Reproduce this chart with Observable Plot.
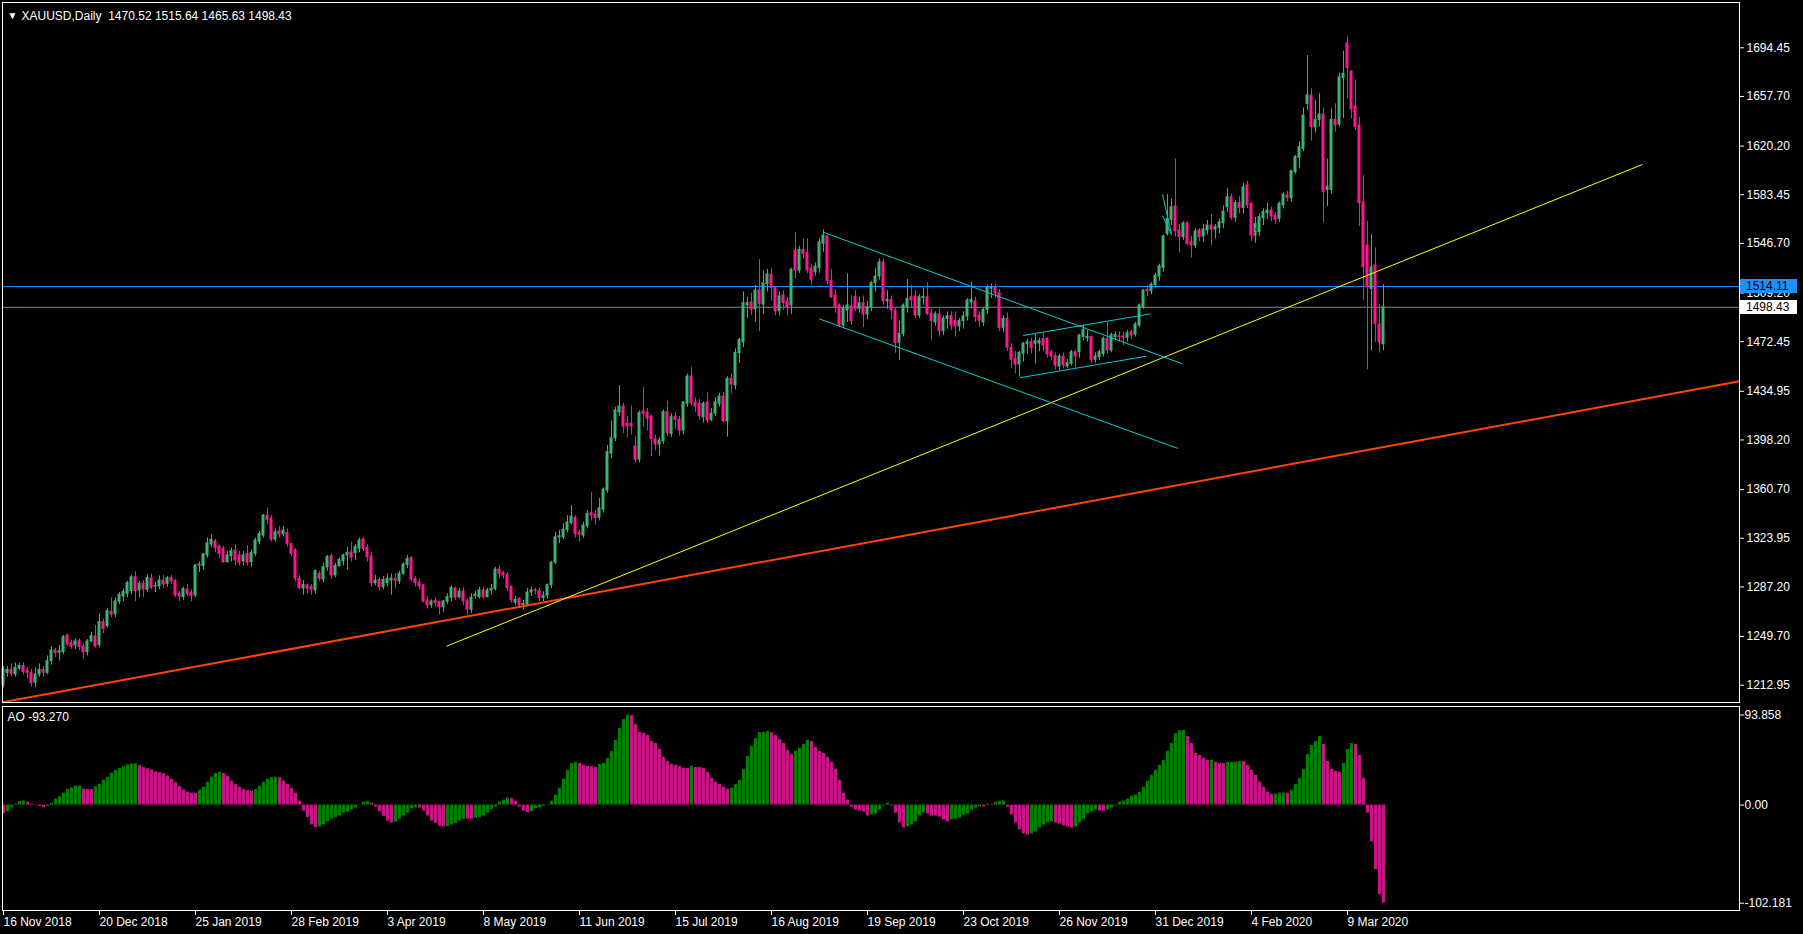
<!DOCTYPE html>
<html><head><meta charset="utf-8">
<script src="https://cdn.jsdelivr.net/npm/d3@7"></script>
<script src="https://cdn.jsdelivr.net/npm/@observablehq/plot@0.6"></script>
<style>
html,body{margin:0;padding:0;background:#000;overflow:hidden}
#chart{position:relative;width:1803px;height:934px;background:#000}
#chart svg{position:absolute;left:0;display:block}
</style></head><body><div id="chart"></div>
<script>
// ---------- DATA ----------
const symbolName = "XAUUSD,Daily";
const aoLabel = "AO -93.270";
const opens = [
1213.0,1222.3,1224.5,1221.0,1225.5,1227.5,1224.0,1222.3,1214.8,1221.0,
1224.5,1222.3,1231.0,1239.2,1237.5,1238.0,1250.5,1244.7,1243.0,1246.2,
1242.2,1238.0,1246.0,1249.7,1243.4,1260.6,1257.5,1268.3,1266.6,1276.0,
1279.9,1282.0,1284.0,1294.5,1284.5,1289.5,1285.0,1293.5,1287.5,1287.6,
1292.0,1289.5,1293.8,1291.8,1281.9,1279.5,1285.2,1283.0,1280.7,1303.5,
1302.9,1311.0,1319.2,1321.5,1317.7,1316.0,1306.0,1310.5,1314.7,1311.0,
1306.6,1312.2,1306.0,1312.2,1321.3,1326.0,1341.1,1338.6,1323.0,1329.3,
1327.0,1328.0,1319.7,1314.7,1293.3,1286.0,1288.3,1287.0,1284.5,1297.0,
1292.8,1302.0,1310.4,1296.0,1303.0,1306.6,1311.0,1313.2,1312.7,1316.0,
1323.0,1316.7,1310.2,1290.0,1292.5,1287.0,1290.0,1292.0,1293.0,1291.5,
1297.1,1303.7,1308.9,1293.0,1290.5,1288.3,1276.9,1273.4,1276.4,1275.7,
1271.9,1276.2,1279.0,1286.0,1279.4,1283.7,1276.4,1270.0,1280.2,1279.4,
1284.5,1279.4,1284.5,1285.7,1300.3,1297.6,1296.3,1287.0,1275.3,1278.0,
1273.5,1274.0,1283.0,1284.6,1284.0,1278.9,1280.5,1288.5,1305.5,1324.5,
1324.7,1330.3,1335.3,1339.3,1327.8,1326.0,1333.0,1342.9,1341.9,1339.5,
1345.6,1360.0,1387.7,1399.5,1419.0,1423.4,1410.4,1410.4,1393.2,1383.4,
1419.7,1418.7,1415.9,1398.8,1394.8,1397.3,1419.2,1402.8,1415.9,1413.4,
1405.3,1425.5,1446.1,1426.5,1425.5,1415.3,1426.5,1413.4,1418.0,1425.5,
1431.0,1412.4,1444.4,1439.5,1463.8,1472.0,1500.0,1502.0,1497.0,1511.0,
1500.5,1516.0,1523.0,1512.9,1495.5,1507.3,1502.8,1499.8,1541.3,1526.0,
1541.8,1539.3,1527.7,1524.9,1528.2,1546.4,1551.9,1518.2,1507.3,1499.8,
1484.7,1496.0,1499.0,1506.1,1497.3,1501.5,1493.0,1498.5,1516.6,1521.7,
1532.3,1503.0,1504.0,1496.0,1471.6,1478.4,1498.5,1506.0,1506.6,1492.2,
1505.5,1506.0,1493.5,1487.0,1493.0,1480.4,1489.7,1492.0,1488.0,1484.0,
1488.0,1491.5,1502.0,1502.8,1492.2,1487.0,1496.5,1512.4,1513.6,1509.0,
1482.9,1489.7,1467.8,1459.5,1455.2,1463.3,1470.8,1472.0,1470.8,1471.0,
1474.5,1474.6,1464.5,1461.5,1453.6,1461.2,1453.7,1455.7,1464.5,1464.5,
1476.0,1475.0,1475.9,1458.7,1460.7,1463.3,1474.6,1465.8,1475.9,1476.4,
1476.4,1475.5,1479.6,1477.9,1484.6,1498.5,1511.6,1510.6,1515.2,1521.7,
1528.2,1553.9,1564.5,1574.5,1556.4,1551.4,1561.9,1547.6,1545.1,1556.4,
1551.9,1556.4,1560.2,1557.2,1558.4,1562.0,1574.0,1581.6,1566.0,1577.1,
1573.5,1590.4,1576.6,1552.6,1555.2,1565.9,1569.5,1571.5,1567.7,1565.2,
1575.3,1583.0,1580.8,1600.5,1611.3,1618.1,1652.1,1658.4,1634.5,1640.0,
1644.0,1587.1,1587.1,1640.0,1636.5,1671.7,1697.9,1676.5,1650.1,1635.7,
1577.8,1545.1,1512.3,1530.0,1485.4,1470.52];
const highs = [
1227.0,1227.0,1229.0,1229.8,1229.5,1230.0,1226.0,1225.0,1226.0,1229.0,
1227.0,1235.0,1242.0,1241.0,1243.0,1250.5,1251.5,1247.0,1248.0,1248.0,
1244.0,1247.5,1253.0,1258.0,1266.9,1263.0,1271.0,1278.9,1279.0,1283.0,
1285.5,1291.5,1296.0,1298.7,1291.0,1292.0,1296.5,1297.0,1291.0,1295.5,
1296.0,1295.0,1296.0,1293.0,1284.0,1287.0,1289.0,1285.0,1304.0,1306.0,
1312.5,1324.3,1326.5,1323.0,1319.0,1318.0,1314.0,1316.5,1319.0,1314.0,
1314.0,1318.5,1315.0,1324.0,1329.0,1342.0,1347.0,1341.0,1331.0,1333.0,
1333.0,1331.0,1320.0,1316.0,1296.0,1292.0,1289.5,1289.0,1300.0,1299.0,
1305.0,1311.0,1312.0,1305.0,1309.0,1312.0,1317.0,1321.0,1319.0,1324.0,
1324.5,1319.0,1313.0,1296.0,1294.0,1295.0,1297.0,1297.0,1297.0,1299.0,
1305.5,1311.0,1310.0,1295.0,1293.0,1289.0,1280.0,1277.5,1278.8,1276.5,
1277.0,1282.0,1288.0,1287.0,1286.0,1287.0,1278.0,1282.0,1284.0,1287.0,
1287.0,1286.0,1289.0,1302.0,1303.0,1299.0,1298.0,1288.0,1280.0,1279.0,
1277.0,1286.0,1287.0,1286.0,1286.0,1283.5,1289.5,1306.5,1328.5,1330.0,
1335.0,1341.0,1348.7,1341.0,1330.0,1336.0,1345.0,1358.7,1345.0,1354.0,
1362.0,1394.0,1412.4,1423.0,1439.3,1426.0,1416.0,1424.0,1401.0,1420.0,
1438.0,1422.0,1417.0,1402.0,1400.0,1421.0,1427.5,1418.0,1419.0,1416.0,
1427.0,1448.0,1453.2,1430.0,1429.0,1427.0,1433.8,1422.0,1430.0,1433.5,
1434.0,1446.0,1448.0,1467.0,1475.0,1510.0,1506.0,1509.0,1515.0,1534.5,
1526.0,1527.0,1528.0,1514.0,1510.0,1511.0,1506.0,1528.0,1555.0,1544.5,
1550.0,1550.0,1531.0,1532.0,1550.0,1556.9,1553.0,1527.0,1512.0,1501.0,
1500.0,1523.7,1507.0,1511.0,1506.0,1507.0,1503.0,1518.0,1527.5,1535.0,
1535.0,1511.0,1507.0,1498.0,1488.0,1501.0,1519.4,1515.0,1511.0,1508.0,
1513.0,1517.0,1497.0,1495.0,1497.0,1492.0,1495.0,1495.0,1495.0,1490.0,
1495.0,1505.0,1517.4,1506.0,1495.0,1498.0,1515.0,1516.0,1516.0,1512.0,
1492.0,1494.0,1471.0,1465.0,1465.0,1472.0,1474.5,1475.0,1478.0,1475.0,
1478.9,1475.5,1466.0,1464.0,1463.0,1464.0,1459.0,1466.0,1466.0,1478.0,
1484.7,1481.0,1477.0,1464.0,1466.0,1476.0,1487.2,1479.0,1480.0,1480.0,
1479.6,1481.0,1481.0,1487.0,1501.0,1512.0,1514.9,1517.0,1524.0,1531.0,
1553.0,1583.6,1580.0,1610.5,1561.0,1563.0,1563.0,1552.0,1557.6,1558.0,
1560.9,1564.0,1568.5,1561.0,1565.0,1575.0,1588.0,1584.0,1579.0,1582.0,
1592.0,1593.7,1578.0,1566.5,1569.0,1572.8,1577.0,1574.0,1570.0,1578.0,
1585.0,1586.0,1602.0,1613.0,1623.6,1649.0,1688.6,1663.4,1654.6,1659.7,
1649.0,1610.5,1648.3,1652.1,1675.3,1691.9,1703.0,1677.0,1670.2,1642.0,
1597.9,1563.5,1553.4,1543.3,1500.5,1515.64];
const lows = [
1211.0,1219.0,1219.5,1219.0,1224.0,1220.5,1218.0,1211.5,1211.0,1219.0,
1219.0,1221.0,1228.0,1234.0,1231.0,1236.0,1242.0,1240.0,1240.0,1239.0,
1232.6,1235.0,1245.0,1241.0,1241.0,1252.0,1256.0,1264.0,1264.0,1274.0,
1276.0,1279.0,1281.0,1276.2,1279.0,1279.4,1283.0,1285.0,1283.0,1285.0,
1286.0,1287.0,1289.0,1279.0,1276.0,1277.0,1280.0,1276.0,1279.0,1298.0,
1300.0,1309.0,1317.0,1313.0,1308.4,1305.0,1305.0,1306.0,1303.4,1303.0,
1303.0,1303.0,1302.1,1310.0,1319.0,1324.0,1334.0,1321.0,1321.0,1324.0,
1325.0,1317.0,1310.0,1291.0,1285.0,1281.0,1282.0,1281.0,1282.0,1291.0,
1290.0,1299.0,1293.0,1294.0,1302.0,1303.0,1300.0,1306.0,1307.0,1313.0,
1314.0,1306.0,1287.0,1288.0,1284.0,1285.0,1287.0,1281.0,1286.0,1289.0,
1296.0,1301.0,1291.0,1287.0,1285.0,1275.0,1270.5,1271.0,1272.0,1266.0,
1268.0,1274.0,1276.0,1277.0,1278.0,1273.0,1266.0,1267.0,1278.0,1278.0,
1278.0,1279.0,1281.0,1284.0,1293.0,1293.0,1284.0,1274.8,1273.0,1271.0,
1270.0,1272.0,1280.0,1281.0,1276.0,1276.0,1278.0,1286.0,1304.0,1320.0,
1323.0,1328.0,1334.0,1324.0,1321.0,1324.0,1331.0,1337.0,1334.0,1337.0,
1343.0,1358.0,1384.0,1397.0,1416.0,1403.0,1400.0,1402.0,1381.0,1381.0,
1408.0,1405.0,1385.7,1390.0,1386.0,1395.0,1401.0,1400.0,1406.0,1401.0,
1402.0,1423.0,1424.0,1419.0,1413.0,1411.0,1411.0,1412.0,1416.0,1423.0,
1411.0,1400.3,1433.0,1436.0,1456.0,1468.0,1490.0,1492.0,1487.0,1480.0,
1493.0,1510.0,1503.0,1492.0,1492.0,1496.0,1492.0,1493.0,1520.0,1524.0,
1535.0,1524.0,1515.0,1522.0,1524.0,1540.0,1515.0,1505.0,1494.0,1483.0,
1483.0,1487.0,1485.0,1495.0,1494.0,1483.0,1489.0,1495.0,1510.0,1519.0,
1500.0,1497.0,1489.0,1463.8,1458.2,1476.0,1494.0,1498.0,1490.0,1490.0,
1500.0,1492.0,1473.3,1484.0,1476.0,1477.0,1482.0,1481.0,1476.0,1480.0,
1482.0,1488.0,1497.0,1487.0,1483.0,1484.0,1493.0,1505.0,1505.0,1480.0,
1479.0,1465.0,1452.0,1448.2,1445.6,1457.0,1463.0,1463.0,1455.7,1465.0,
1464.6,1460.0,1458.0,1451.0,1450.7,1452.0,1452.0,1454.0,1452.6,1460.0,
1473.0,1472.0,1456.0,1456.0,1458.0,1461.0,1463.0,1464.0,1473.0,1472.0,
1469.5,1472.0,1474.0,1476.0,1483.0,1497.0,1506.6,1508.0,1513.0,1518.0,
1525.0,1552.0,1560.0,1551.4,1539.3,1549.0,1545.0,1535.5,1543.0,1548.0,
1547.6,1553.0,1545.1,1550.0,1554.0,1558.0,1570.0,1564.0,1562.7,1569.0,
1569.0,1573.0,1548.4,1546.8,1552.0,1560.2,1565.0,1563.0,1560.9,1562.5,
1572.8,1578.0,1578.0,1599.0,1603.0,1616.0,1647.1,1623.9,1630.0,1634.5,
1562.0,1574.5,1584.1,1630.7,1634.5,1641.0,1655.9,1640.8,1632.0,1559.4,
1503.5,1451.2,1465.2,1472.0,1463.8,1465.63];
const closes = [
1225.0,1224.5,1221.5,1226.0,1227.5,1222.8,1222.3,1214.5,1221.0,1224.5,
1222.3,1231.1,1239.2,1237.2,1238.6,1249.2,1243.7,1241.9,1246.0,1241.7,
1237.9,1246.0,1250.0,1242.2,1260.6,1255.5,1268.9,1266.3,1276.2,1281.2,
1283.5,1290.0,1294.5,1284.0,1289.5,1285.3,1294.0,1286.5,1288.0,1292.0,
1289.0,1293.8,1291.3,1280.6,1280.2,1285.5,1282.0,1280.5,1303.4,1304.0,
1311.7,1320.2,1322.8,1316.7,1312.2,1305.9,1311.0,1314.2,1307.2,1305.4,
1311.0,1305.4,1312.7,1322.3,1327.3,1341.1,1337.9,1323.0,1328.5,1326.8,
1329.8,1319.7,1312.2,1293.3,1286.3,1288.6,1285.7,1285.2,1299.1,1293.3,
1302.1,1309.7,1295.8,1303.1,1307.6,1311.0,1313.0,1309.2,1317.3,1322.3,
1316.0,1309.7,1290.0,1292.0,1287.0,1292.5,1293.3,1293.5,1292.0,1297.1,
1304.1,1308.4,1292.8,1290.0,1287.5,1276.2,1273.1,1276.2,1275.0,1271.9,
1276.2,1279.5,1286.5,1279.0,1283.7,1276.2,1270.0,1279.0,1281.4,1284.5,
1279.4,1284.5,1285.7,1300.3,1297.0,1295.8,1286.3,1277.0,1277.5,1273.1,
1274.3,1283.0,1284.6,1284.2,1278.9,1280.5,1288.5,1305.5,1324.7,1325.5,
1330.3,1335.8,1340.3,1327.3,1326.5,1333.6,1342.4,1341.1,1339.1,1346.6,
1360.7,1388.9,1399.5,1420.4,1423.4,1408.4,1408.6,1408.4,1383.2,1418.4,
1417.9,1414.4,1398.8,1394.8,1397.8,1419.2,1403.3,1415.4,1413.4,1405.3,
1426.5,1446.1,1426.0,1423.5,1416.4,1425.5,1413.0,1418.0,1426.7,1431.0,
1412.4,1444.4,1440.0,1463.8,1473.8,1501.5,1501.5,1496.7,1511.1,1501.0,
1516.5,1523.2,1513.0,1495.5,1506.7,1501.5,1498.0,1526.9,1526.2,1541.8,
1538.8,1526.2,1519.2,1529.2,1547.6,1552.6,1518.2,1506.1,1498.5,1484.7,
1497.3,1499.8,1488.0,1497.3,1501.5,1493.0,1498.5,1516.6,1521.7,1532.3,
1503.0,1504.0,1496.0,1471.6,1478.4,1499.8,1504.8,1503.5,1492.2,1506.1,
1506.1,1493.5,1488.0,1493.0,1480.4,1489.7,1491.5,1484.6,1484.0,1488.0,
1491.5,1503.5,1504.0,1491.0,1488.4,1496.5,1513.1,1513.6,1509.0,1482.9,
1489.7,1467.8,1458.7,1455.2,1463.8,1470.8,1472.0,1467.8,1472.8,1472.8,
1469.6,1462.8,1461.2,1454.4,1461.2,1454.4,1456.2,1464.5,1461.2,1477.1,
1481.4,1476.0,1458.7,1461.2,1464.5,1474.6,1465.8,1477.1,1477.6,1475.9,
1475.5,1478.8,1477.1,1485.4,1499.8,1511.1,1510.6,1515.4,1522.4,1529.2,
1551.9,1565.2,1574.0,1555.7,1551.4,1561.9,1546.3,1545.1,1555.7,1551.4,
1557.2,1560.2,1557.2,1558.9,1562.5,1570.8,1581.6,1566.0,1577.1,1573.5,
1589.1,1575.3,1552.6,1561.4,1566.5,1570.3,1571.5,1567.0,1564.5,1576.6,
1583.6,1581.1,1601.2,1611.8,1619.4,1643.3,1658.4,1634.5,1640.0,1644.0,
1585.4,1589.6,1640.0,1635.7,1672.2,1674.8,1679.3,1647.8,1634.5,1577.1,
1528.7,1513.5,1528.7,1485.9,1472.0,1498.43];
const aoValues = [
-9,-7,-2.8,1,3.8,4.2,3,1,-0.7,-1.4,
-2.8,-1.4,1.7,6.2,8.6,12.4,16.5,17.9,19.7,19.9,
16.5,16.3,16.2,19,21.7,25.9,29,33,36,38,
40,42,42.8,43,41.4,39,37.9,36.5,34.5,33.8,
32.8,30.3,26.9,23.4,19.3,15.9,13.5,12.4,12.2,15.5,
18.6,23.8,29,33,34,33,30,24.8,21.4,18.6,
16.2,15.2,14.5,16,19.7,23.8,27.2,28.6,29,28.6,
24.8,21.4,17.2,12.4,4.1,-6.2,-13.1,-20.7,-23.4,-22.8,
-20.7,-17.2,-14.5,-13.1,-11.4,-8.3,-7.6,-4.8,-3.1,0.3,
3.1,4.1,2.1,-2.1,-6.9,-11.7,-16.6,-18.6,-17.9,-14.8,
-11.4,-8.3,-3.8,-2.8,-3,-6.2,-11.4,-16.6,-19,-22.1,
-22.8,-22.5,-20.7,-19.3,-16.6,-14.5,-14.7,-14.8,-13.8,-13.1,
-11.4,-8.3,-4.8,-2.1,3.1,5.2,7.2,7,4.1,-2.1,
-6.2,-7.9,-6.9,-3.8,-2.8,-1.4,0.3,4.1,10.3,17.6,
26.9,36.2,43.4,44.5,43.4,41.4,40.3,40.1,39.3,42.4,
43.4,48.6,55.9,67.2,79.7,89,93.858,93.2,83.8,75.5,
74.8,72.4,66.2,64.1,57.9,49.7,45.5,42.4,41.4,40.3,
38.3,38.1,40.3,39.3,39.1,38.3,34.1,27.9,23.8,21.7,
18.6,16.6,17.6,21.7,25.9,37.2,50.7,61,69.3,75.5,
75.6,76.6,75.5,72.4,68.3,64.1,56.9,52.8,55.9,59,
63.1,67.2,66.2,60,55.9,53.8,49.7,44.5,37.2,25.9,
12.4,5.2,-2.1,-5.2,-6.2,-7.2,-11.4,-10.3,-9.3,-5.2,
-1,2.1,-1,-8.3,-18.6,-23.8,-22.8,-20.7,-17.6,-11.4,
-8.3,-9.3,-11.4,-11.5,-12.4,-15.5,-17.6,-15.5,-14.5,-13.4,
-10.3,-9.3,-5.2,-3.1,-1.7,-2,1,0.7,3.1,4.1,
4.2,-2.1,-10.3,-18.6,-25.9,-30,-31,-30,-27.9,-23.8,
-20.7,-18.6,-17.6,-18.6,-19.7,-21.7,-22.8,-23.8,-22.8,-18.6,
-14.5,-9.3,-7.2,-5.2,-6.2,-6.3,-5.2,-3.1,-1,3.1,
4.1,6.2,9.3,10.3,13.4,18.6,24.8,31,36.2,41.4,
46.6,55.9,64.1,74.5,77.6,77.8,71.4,64.1,53.8,51.7,
48.6,46.6,46.8,44.5,43.4,43.3,44.5,44.6,44.7,45.5,
45.4,41.4,36.2,31,23.8,18.6,13.4,11.4,11.5,12.4,
12.5,12.3,15.5,21.7,27.9,37.2,52.8,62.1,66.2,71.4,
63.1,45.5,37.2,35.2,34.1,43.4,57.9,64.1,63.1,51.7,
27.9,-8.3,-38.3,-67.2,-93.27,-102.181];
const dateTickBars = [0,24,48,72,96,120,144,168,192,216,240,264,288,312,336];
const dateTickLabels = ["16 Nov 2018","20 Dec 2018","25 Jan 2019","28 Feb 2019","3 Apr 2019","8 May 2019","11 Jun 2019","15 Jul 2019","16 Aug 2019","19 Sep 2019","23 Oct 2019","26 Nov 2019","31 Dec 2019","4 Feb 2020","9 Mar 2020"];
const priceTicks = [1694.45,1657.70,1620.20,1583.45,1546.70,1509.20,1472.45,1434.95,1398.20,1360.70,1323.95,1287.20,1249.70,1212.95];
const aoTicks = [93.858, 0, -102.181];
const aoTickLabels = ["93.858","0.00","-102.181"];
const levelAsk = 1514.11;
const levelBid = 1498.43;
// drawn objects: anchor points in (bar index, price)
const orangeTrend = [{i1:-0.25,p1:1200.0,i2:434,p2:1442.5}];
const yellowTrend = [{i1:110.75,p1:1242.4,i2:409.75,p2:1606.3}];
const cyanLines = [
  {i1:204.9,p1:1555.2,i2:294.75,p2:1455.7},
  {i1:203.9,p1:1489.7,i2:293.6,p2:1391.8},
  {i1:254.9,p1:1477.1,i2:286.75,p2:1493.5},
  {i1:254.1,p1:1445.2,i2:285.75,p2:1461.5},
  {i1:289.75,p1:1583.6,i2:292,p2:1553.4},
  {i1:289.75,p1:1567.7,i2:292,p2:1553.4}
];
const redMark = [{i1:311.9,p1:1548.3,i2:313.25,p2:1559.4}];

// ---------- STYLE ----------
const BULL = "#3CB371", BEAR = "#FF1493";
const AO_UP = "#008000", AO_DN = "#C71585";
const FONT = "'Liberation Sans', Arial, sans-serif";

const candles = opens.map((o, i) => ({
  i, o, h: highs[i], l: lows[i], c: closes[i],
  col: closes[i] >= o ? BULL : BEAR
}));
const aoData = aoValues.map((v, i) => ({
  i, v, col: (i > 0 && v > aoValues[i - 1]) ? AO_UP : AO_DN
}));
const last = candles.length - 1;
const title = `${symbolName}  ${opens[last].toFixed(2)} ${highs[last].toFixed(2)} ${lows[last].toFixed(2)} ${closes[last].toFixed(2)}`;

const xDomain = [-0.25, 434];
const commonStyle = {background: "#000", color: "#fff", fontFamily: FONT, fontSize: "12px", overflow: "visible"};

const main = Plot.plot({
  width: 1803, height: 704,
  marginTop: 2, marginBottom: 2, marginLeft: 2, marginRight: 64,
  x: {domain: xDomain, axis: null},
  y: {domain: [1199.88, 1728.67]},
  color: {type: "identity"},
  style: commonStyle,
  marks: [
    Plot.ruleY([levelAsk], {stroke: "#1E90FF"}),
    Plot.ruleY([levelBid], {stroke: "#778899"}),
    Plot.ruleX(candles, {x: "i", y1: "l", y2: "h", stroke: "col"}),
    Plot.rect(candles, {x1: d => d.i - 0.375, x2: d => d.i + 0.375,
      y1: d => Math.min(d.o, d.c), y2: d => Math.max(d.o, d.c),
      fill: "col", insetTop: -0.5, insetBottom: -0.5}),
    Plot.link(orangeTrend, {x1: "i1", y1: "p1", x2: "i2", y2: "p2", stroke: "#FF4500", strokeWidth: 2}),
    Plot.link(yellowTrend, {x1: "i1", y1: "p1", x2: "i2", y2: "p2", stroke: "#FFFF00", strokeWidth: 1}),
    Plot.link(cyanLines, {x1: "i1", y1: "p1", x2: "i2", y2: "p2", stroke: "#00CED1", strokeWidth: 1}),
    Plot.link(redMark, {x1: "i1", y1: "p1", x2: "i2", y2: "p2", stroke: "#FF0000", strokeWidth: 1, strokeDasharray: "2,2"}),
    Plot.frame({stroke: "#fff"}),
    Plot.axisY(priceTicks, {anchor: "right", tickSize: 4, tickPadding: 3, label: null,
      tickFormat: d => d.toFixed(2), color: "#fff", fontSize: 12}),
    Plot.text(["\u25BC"], {frameAnchor: "top-left", dx: 5, dy: 9, fontSize: 10, fill: "#fff", textAnchor: "start", lineAnchor: "top"}),
    Plot.text([title], {frameAnchor: "top-left", dx: 19, dy: 9, fontSize: 12, fill: "#fff", textAnchor: "start", lineAnchor: "top"})
  ]
});
main.style.top = "0px";

// price tag boxes on the right axis (current ask / bid)
{
  const ys = main.scale("y");
  const sel = d3.select(main);
  const tags = [{v: levelAsk, bg: "#1E90FF"}, {v: levelBid, bg: "#FFFFFF"}];
  for (const t of tags) {
    const yy = Math.round(ys.apply(t.v));
    sel.append("rect").attr("x", 1740).attr("y", yy - 7).attr("width", 57).attr("height", 14).attr("fill", t.bg);
    sel.append("text").attr("x", 1746).attr("y", yy).attr("dy", "0.35em")
      .attr("text-anchor", "start")
      .attr("fill", "#000").attr("font-family", FONT).attr("font-size", 12).text(t.v.toFixed(2));
  }
}

const ao = Plot.plot({
  width: 1803, height: 230,
  marginTop: 2, marginBottom: 24, marginLeft: 2, marginRight: 64,
  x: {domain: xDomain},
  y: {domain: [-109.79, 102.71]},
  color: {type: "identity"},
  style: commonStyle,
  marks: [
    Plot.ruleX(aoData, {x: "i", y1: 0, y2: "v", stroke: "col", strokeWidth: 3}),
    Plot.frame({stroke: "#fff"}),
    Plot.axisY(aoTicks, {anchor: "right", tickSize: 4, tickPadding: 1, label: null,
      tickFormat: d => aoTickLabels[aoTicks.indexOf(d)], color: "#fff", fontSize: 12}),
    Plot.axisX(dateTickBars, {anchor: "bottom", tickSize: 5, tickPadding: 2, label: null,
      tickFormat: d => dateTickLabels[dateTickBars.indexOf(d)], textAnchor: "start", color: "#fff", fontSize: 12}),
    Plot.text([aoLabel], {frameAnchor: "top-left", dx: 5, dy: 6, fontSize: 12, fill: "#fff", textAnchor: "start", lineAnchor: "top"})
  ]
});
ao.style.top = "704px";

const root = document.getElementById("chart");
root.appendChild(main);
root.appendChild(ao);
</script>
</body></html>
